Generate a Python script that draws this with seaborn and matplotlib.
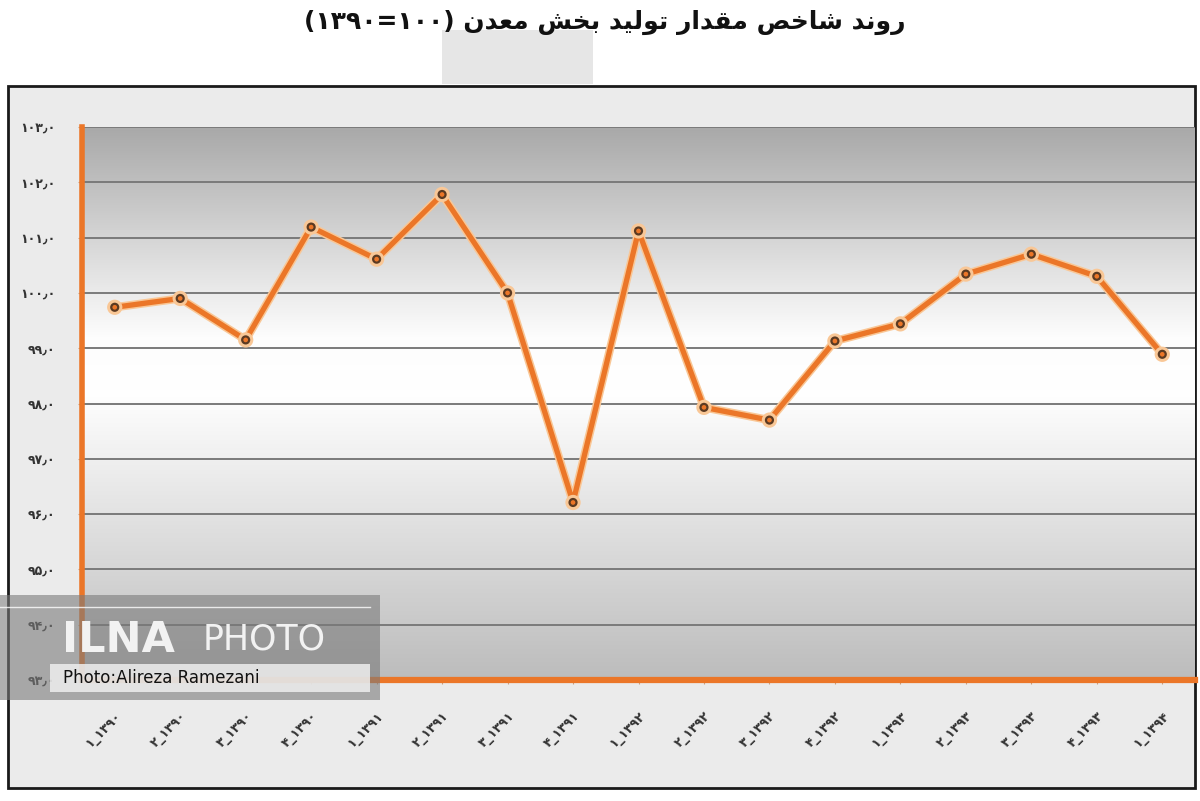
import matplotlib
matplotlib.use("Agg")
import matplotlib.pyplot as plt
import matplotlib.patheffects as pe
from matplotlib.colors import LinearSegmentedColormap
from matplotlib.patches import Rectangle
import numpy as np
import pandas as pd
import seaborn as sns

# data (quarterly index, 1390 = 100)
quarters = [
    "۱_۱۳۹۰", "۲_۱۳۹۰", "۳_۱۳۹۰", "۴_۱۳۹۰",
    "۱_۱۳۹۱", "۲_۱۳۹۱", "۳_۱۳۹۱", "۴_۱۳۹۱",
    "۱_۱۳۹۲", "۲_۱۳۹۲", "۳_۱۳۹۲", "۴_۱۳۹۲",
    "۱_۱۳۹۳", "۲_۱۳۹۳", "۳_۱۳۹۳", "۴_۱۳۹۳",
    "۱_۱۳۹۴",
]
index_values = [
    99.74, 99.90, 99.15, 101.19,
    100.61, 101.78, 100.00, 96.21,
    101.12, 97.93, 97.70, 99.13,
    99.44, 100.34, 100.70, 100.30,
    98.89,
]
y_ticks = [93, 94, 95, 96, 97, 98, 99, 100, 101, 102, 103]

title_words = "روند شاخص مقدار تولید بخش معدن"
title_base = "(۱۳۹۰=۱۰۰)"

ORANGE = "#eb7628"
FA_DIGITS = str.maketrans("0123456789.", "۰۱۲۳۴۵۶۷۸۹٫")

# arabic presentation forms: isolated, final, initial, medial
FORMS = {
    "ا": ("\ufe8d", "\ufe8e", None, None),
    "ب": ("\ufe8f", "\ufe90", "\ufe91", "\ufe92"),
    "ت": ("\ufe95", "\ufe96", "\ufe97", "\ufe98"),
    "خ": ("\ufea5", "\ufea6", "\ufea7", "\ufea8"),
    "د": ("\ufea9", "\ufeaa", None, None),
    "ر": ("\ufead", "\ufeae", None, None),
    "ش": ("\ufeb5", "\ufeb6", "\ufeb7", "\ufeb8"),
    "ص": ("\ufeb9", "\ufeba", "\ufebb", "\ufebc"),
    "ع": ("\ufec9", "\ufeca", "\ufecb", "\ufecc"),
    "ق": ("\ufed5", "\ufed6", "\ufed7", "\ufed8"),
    "ل": ("\ufedd", "\ufede", "\ufedf", "\ufee0"),
    "م": ("\ufee1", "\ufee2", "\ufee3", "\ufee4"),
    "ن": ("\ufee5", "\ufee6", "\ufee7", "\ufee8"),
    "و": ("\ufeed", "\ufeee", None, None),
    "ی": ("\ufbfc", "\ufbfd", "\ufef3", "\ufef4"),
}


def shape_rtl(text):
    out = []
    for i, ch in enumerate(text):
        if ch not in FORMS:
            out.append(ch)
            continue
        prev = text[i - 1] if i > 0 else ""
        nxt = text[i + 1] if i + 1 < len(text) else ""
        join_prev = prev in FORMS and FORMS[prev][2] is not None
        join_next = nxt in FORMS and FORMS[ch][2] is not None
        iso, fin, ini, med = FORMS[ch]
        if join_prev and join_next:
            out.append(med)
        elif join_prev:
            out.append(fin)
        elif join_next:
            out.append(ini)
        else:
            out.append(iso)
    return "".join(out)[::-1]


df = pd.DataFrame({"quarter": quarters, "value": index_values})

W, H = 1200, 801
fig = plt.figure(figsize=(W / 100, H / 100), dpi=100)
fig.patch.set_facecolor("white")

# faint background block behind the title and the outer frame
fig.patches.append(Rectangle((442 / W, 1 - 84 / H), 151 / W, 54 / H,
                             transform=fig.transFigure, facecolor="#e6e6e6",
                             edgecolor="none", zorder=-2))
fig.patches.append(Rectangle((8 / W, 1 - 788 / H), 1187 / W, 702 / H,
                             transform=fig.transFigure, facecolor="#ebebeb",
                             edgecolor="#1a1a1a", linewidth=2, zorder=-1))

ax = fig.add_axes([82 / W, 1 - 680 / H, 1113 / W, 553 / H])
ax.set_zorder(1)

sns.pointplot(data=df, x="quarter", y="value", ax=ax, color=ORANGE,
              markers="o", linestyles="-", errorbar=None,
              linewidth=3.8, markersize=5,
              markeredgecolor="#5b3a22", markeredgewidth=1.6, zorder=5)
for ln in ax.lines:
    ln.set_path_effects([pe.Stroke(linewidth=6, foreground="#f9c796"), pe.Normal()])
    ln.set_markerfacecolor(ORANGE)

ax.set_xlim(-0.5, len(quarters) - 0.5)
ax.set_ylim(93, 103)

# vertical gradient background: gray top, white middle, gray bottom
grad_cmap = LinearSegmentedColormap.from_list(
    "bg", [(0.0, "#bcbcbc"), (0.52, "#ffffff"), (0.62, "#fdfdfd"), (1.0, "#a9a9a9")])
ax.imshow(np.linspace(0, 1, 256).reshape(-1, 1), cmap=grad_cmap, aspect="auto",
          extent=(-0.5, len(quarters) - 0.5, 93, 103), origin="lower", zorder=0)

ax.set_yticks(y_ticks)
ax.set_yticklabels([f"{v:.1f}".translate(FA_DIGITS) for v in y_ticks],
                   fontsize=9, fontweight="bold", color="#333333", family="DejaVu Sans")
ax.set_xticks(range(len(quarters)))
ax.set_xticklabels(quarters, rotation=45, ha="right", rotation_mode="anchor",
                   fontsize=9, fontweight="bold", color="#333333", family="DejaVu Sans")
ax.tick_params(axis="y", length=3, pad=16, color="#c8a080")
ax.tick_params(axis="x", length=3, pad=18, color="#c8a080")
ax.set_xlabel("")
ax.set_ylabel("")

ax.yaxis.grid(True, color="#7a7a7a", linewidth=1.4, zorder=1)
ax.xaxis.grid(False)
ax.set_axisbelow(True)

for side in ["top", "right"]:
    ax.spines[side].set_visible(False)
ax.spines["left"].set_color(ORANGE)
ax.spines["left"].set_linewidth(4)
ax.spines["bottom"].set_color(ORANGE)
ax.spines["bottom"].set_linewidth(4.5)

fig.text(0.504, 1 - 22 / H, title_base + " " + shape_rtl(title_words),
         ha="center", va="center", fontsize=18, fontweight="bold",
         color="#111111", family="DejaVu Sans")

# photo watermark
fig.patches.append(Rectangle((0, 1 - 700 / H), 380 / W, 105 / H,
                             transform=fig.transFigure, facecolor="#7a7a7a",
                             alpha=0.6, edgecolor="none", zorder=10))
fig.lines.append(plt.Line2D([0, 370 / W], [1 - 607 / H, 1 - 607 / H],
                            transform=fig.transFigure, color="white",
                            linewidth=1, alpha=0.8, zorder=11))
fig.patches.append(Rectangle((50 / W, 1 - 692 / H), 320 / W, 28 / H,
                             transform=fig.transFigure, facecolor="#eeeeee",
                             alpha=0.85, edgecolor="none", zorder=11))
fig.text(62 / W, 1 - 640 / H, "ILNA", fontsize=31, fontweight="bold",
         color="#f2f2f2", va="center", ha="left", family="DejaVu Sans", zorder=12)
fig.text(203 / W, 1 - 640 / H, "PHOTO", fontsize=25, color="#f2f2f2",
         va="center", ha="left", family="DejaVu Sans", zorder=12)
fig.text(63 / W, 1 - 678 / H, "Photo:Alireza Ramezani", fontsize=12,
         color="#111111", va="center", ha="left", family="DejaVu Sans", zorder=12)

fig.savefig("out.png", dpi=100)
